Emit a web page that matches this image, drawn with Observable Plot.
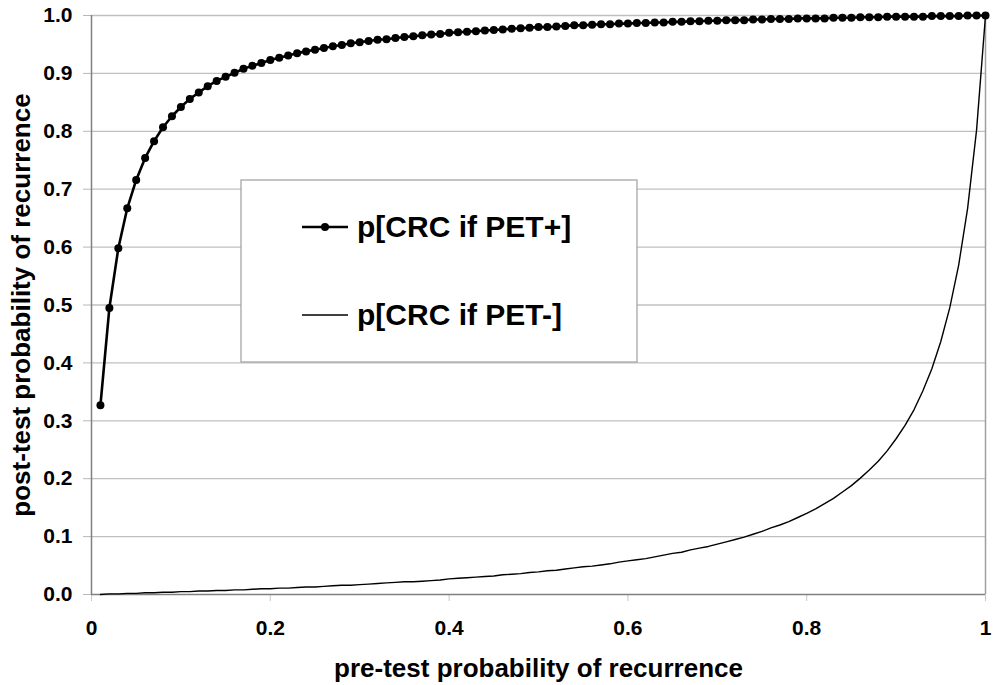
<!DOCTYPE html>
<html><head><meta charset="utf-8">
<script src="https://cdn.jsdelivr.net/npm/d3@7"></script>
<script src="https://cdn.jsdelivr.net/npm/@observablehq/plot@0.6"></script>
<style>
body{margin:0;background:#fff;}
#wrap{position:relative;width:997px;height:685px;font-family:"Liberation Sans",Arial,sans-serif;}
</style></head><body><div id="wrap"></div>
<script>
// pre-test probability of recurrence (x)
const pretest = [0.01,0.02,0.03,0.04,0.05,0.06,0.07,0.08,0.09,0.10,
0.11,0.12,0.13,0.14,0.15,0.16,0.17,0.18,0.19,0.20,
0.21,0.22,0.23,0.24,0.25,0.26,0.27,0.28,0.29,0.30,
0.31,0.32,0.33,0.34,0.35,0.36,0.37,0.38,0.39,0.40,
0.41,0.42,0.43,0.44,0.45,0.46,0.47,0.48,0.49,0.50,
0.51,0.52,0.53,0.54,0.55,0.56,0.57,0.58,0.59,0.60,
0.61,0.62,0.63,0.64,0.65,0.66,0.67,0.68,0.69,0.70,
0.71,0.72,0.73,0.74,0.75,0.76,0.77,0.78,0.79,0.80,
0.81,0.82,0.83,0.84,0.85,0.86,0.87,0.88,0.89,0.90,
0.91,0.92,0.93,0.94,0.95,0.96,0.97,0.98,0.99,1.00];
// p[CRC if PET+]
const petPos = [0.327,0.495,0.598,0.667,0.716,0.754,0.783,0.807,0.826,0.842,
0.856,0.867,0.878,0.887,0.894,0.901,0.908,0.913,0.918,0.923,
0.927,0.931,0.935,0.938,0.941,0.944,0.947,0.949,0.952,0.954,
0.956,0.958,0.959,0.961,0.963,0.964,0.966,0.967,0.968,0.970,
0.971,0.972,0.973,0.974,0.975,0.976,0.977,0.978,0.979,0.980,
0.980,0.981,0.982,0.983,0.983,0.984,0.985,0.985,0.986,0.986,
0.987,0.987,0.988,0.988,0.989,0.989,0.990,0.990,0.991,0.991,
0.992,0.992,0.992,0.993,0.993,0.994,0.994,0.994,0.995,0.995,
0.995,0.995,0.996,0.996,0.996,0.997,0.997,0.997,0.998,0.998,
0.998,0.998,0.998,0.999,0.999,0.999,0.999,1.000,1.000,1.000];
// p[CRC if PET-]
const petNeg = [0.000,0.001,0.001,0.002,0.002,0.003,0.003,0.004,0.004,0.005,
0.005,0.006,0.006,0.007,0.007,0.008,0.008,0.009,0.010,0.010,
0.011,0.011,0.012,0.013,0.013,0.014,0.015,0.016,0.016,0.017,
0.018,0.019,0.020,0.021,0.022,0.022,0.023,0.024,0.025,0.027,
0.028,0.029,0.030,0.031,0.032,0.034,0.035,0.036,0.038,0.039,
0.041,0.042,0.044,0.046,0.048,0.049,0.051,0.053,0.056,0.058,
0.060,0.062,0.065,0.068,0.071,0.073,0.077,0.080,0.083,0.087,
0.091,0.095,0.099,0.104,0.109,0.115,0.120,0.126,0.133,0.140,
0.148,0.157,0.166,0.177,0.188,0.201,0.215,0.230,0.248,0.269,
0.292,0.319,0.352,0.390,0.437,0.495,0.569,0.667,0.802,1.000];

const seriesNames = ["p[CRC if PET+]", "p[CRC if PET-]"];
const xTicks = [0, 0.2, 0.4, 0.6, 0.8, 1];
const xTickLabels = ["0", "0.2", "0.4", "0.6", "0.8", "1"];
const yTicks = [0, 0.1, 0.2, 0.3, 0.4, 0.5, 0.6, 0.7, 0.8, 0.9, 1.0];
const yTickLabels = ["0.0","0.1","0.2","0.3","0.4","0.5","0.6","0.7","0.8","0.9","1.0"];
const xTitle = "pre-test probability of recurrence";
const yTitle = "post-test probability of recurrence";

const posData = pretest.map((x, i) => ({x, y: petPos[i]}));
const negData = pretest.map((x, i) => ({x, y: petNeg[i]}));

const chart = Plot.plot({
  width: 997, height: 685,
  marginLeft: 91, marginRight: 12, marginTop: 15, marginBottom: 91,
  x: {domain: [0, 1]},
  y: {domain: [0, 1]},
  style: {fontFamily: '"Liberation Sans", Arial, sans-serif', fontWeight: "bold", fontSize: "21px", color: "#000", background: "#fff", overflow: "visible"},
  marks: [
    Plot.gridY(yTicks.slice(1), {stroke: "#c0c0c0", strokeOpacity: 1, strokeWidth: 1.3}),
    Plot.ruleX([1], {stroke: "#a0a0a0", strokeWidth: 1.5}),
    Plot.axisY(yTicks, {tickSize: 8, tickPadding: 11, stroke: "#b8b8b8", fill: "#000", fontSize: 21, fontWeight: "bold",
      tickFormat: d => yTickLabels[yTicks.indexOf(d)], label: null}),
    Plot.axisX(xTicks, {tickSize: 7, tickPadding: 19, stroke: "#c8c8c8", fill: "#000", fontSize: 21, fontWeight: "bold",
      tickFormat: d => xTickLabels[xTicks.indexOf(d)], label: null}),
    Plot.text([xTitle], {frameAnchor: "bottom", textAnchor: "middle", lineAnchor: "bottom", dy: 82, fontSize: 26, fontWeight: "bold", fill: "#000"}),
    Plot.text([yTitle], {frameAnchor: "left", textAnchor: "middle", lineAnchor: "bottom", rotate: -90, dx: -62, fontSize: 26, fontWeight: "bold", fill: "#000"}),
    Plot.ruleX([0], {stroke: "#808080", strokeWidth: 1.5}),
    Plot.ruleY([0], {stroke: "#808080", strokeWidth: 1.5}),
    Plot.line(negData, {x: "x", y: "y", stroke: "#000", strokeWidth: 1.4}),
    Plot.line(posData, {x: "x", y: "y", stroke: "#000", strokeWidth: 2.6}),
    Plot.dot(posData, {x: "x", y: "y", r: 4, fill: "#000", stroke: "none"})
  ]
});

const wrap = document.getElementById("wrap");
wrap.appendChild(chart);

// legend overlay
const lg = d3.create("svg").attr("width", 398).attr("height", 184)
  .style("position", "absolute").style("left", "240px").style("top", "179px");
lg.append("rect").attr("x", 1).attr("y", 1).attr("width", 396).attr("height", 182)
  .attr("fill", "#fff").attr("stroke", "#a6a6a6").attr("stroke-width", 1.3);
const entries = [
  {name: seriesNames[0], w: 2.6, dot: true, cy: 48},
  {name: seriesNames[1], w: 1.4, dot: false, cy: 136}
];
for (const e of entries) {
  lg.append("line").attr("x1", 62).attr("x2", 108).attr("y1", e.cy).attr("y2", e.cy)
    .attr("stroke", "#000").attr("stroke-width", e.w);
  if (e.dot) lg.append("circle").attr("cx", 85).attr("cy", e.cy).attr("r", 4).attr("fill", "#000");
  lg.append("text").attr("x", 117).attr("y", e.cy + 10)
    .attr("font-family", '"Liberation Sans", Arial, sans-serif').attr("font-weight", "bold")
    .attr("font-size", 30).attr("fill", "#000").text(e.name);
}
wrap.appendChild(lg.node());
</script>
</body></html>
